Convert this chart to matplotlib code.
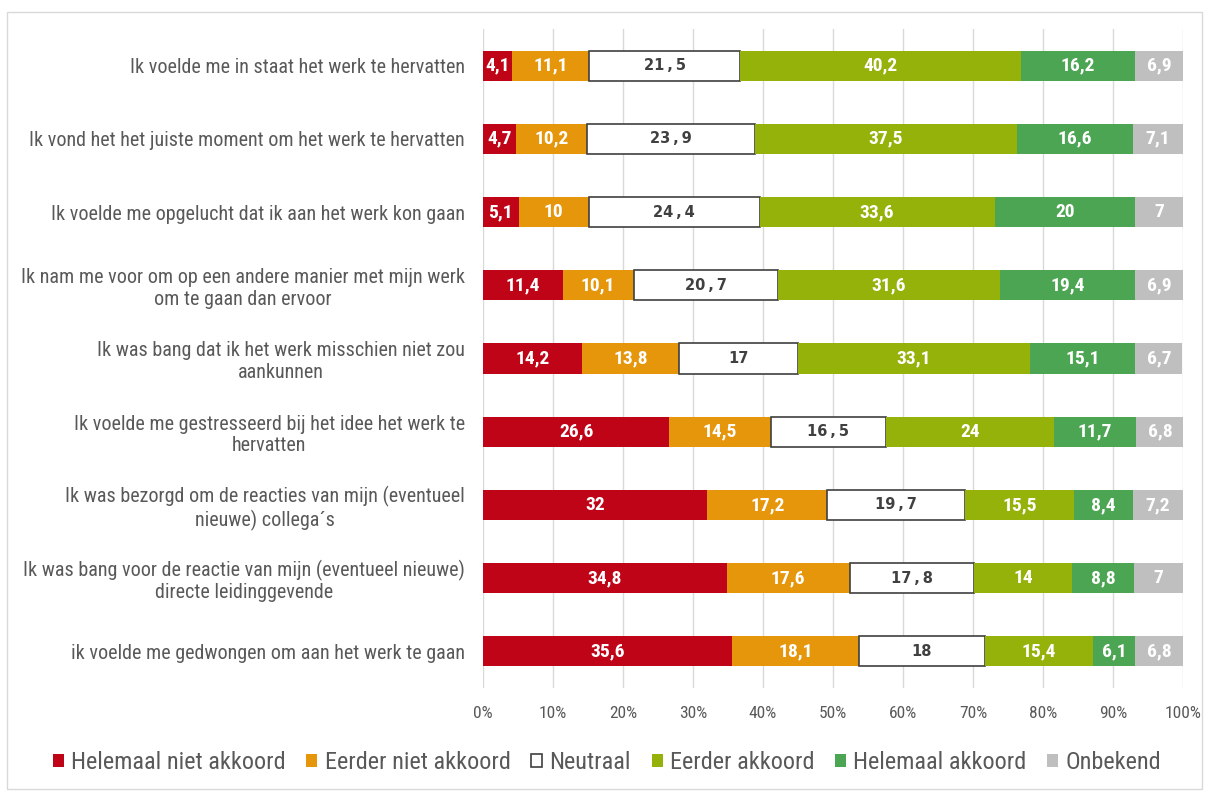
import matplotlib.pyplot as plt
from matplotlib.patches import Rectangle

plt.rcParams['font.family'] = ['Roboto Condensed', 'Roboto', 'DejaVu Sans']

# vragen (van boven naar onder)
vragen = [
    "Ik voelde me in staat het werk te hervatten",
    "Ik vond het het juiste moment om het werk te hervatten",
    "Ik voelde me opgelucht dat ik aan het werk kon gaan",
    "Ik nam me voor om op een andere manier met mijn werk\nom te gaan dan ervoor",
    "Ik was bang dat ik het werk misschien niet zou\naankunnen",
    "Ik voelde me gestresseerd bij het idee het werk te\nhervatten",
    "Ik was bezorgd om de reacties van mijn (eventueel\nnieuwe) collega´s",
    "Ik was bang voor de reactie van mijn (eventueel nieuwe)\ndirecte leidinggevende",
    "ik voelde me gedwongen om aan het werk te gaan",
]

categorieen = ["Helemaal niet akkoord", "Eerder niet akkoord", "Neutraal",
               "Eerder akkoord", "Helemaal akkoord", "Onbekend"]

helemaal_niet = [4.1, 4.7, 5.1, 11.4, 14.2, 26.6, 32, 34.8, 35.6]
eerder_niet = [11.1, 10.2, 10, 10.1, 13.8, 14.5, 17.2, 17.6, 18.1]
neutraal = [21.5, 23.9, 24.4, 20.7, 17, 16.5, 19.7, 17.8, 18]
eerder_akk = [40.2, 37.5, 33.6, 31.6, 33.1, 24, 15.5, 14, 15.4]
helemaal_akk = [16.2, 16.6, 20, 19.4, 15.1, 11.7, 8.4, 8.8, 6.1]
onbekend = [6.9, 7.1, 7, 6.9, 6.7, 6.8, 7.2, 7, 6.8]

reeksen = [helemaal_niet, eerder_niet, neutraal, eerder_akk, helemaal_akk, onbekend]
kleuren = ["#C00418", "#E5960A", "#FFFFFF", "#94B20A", "#4CA553", "#BFBFBF"]
randen = ["none", "none", "#404040", "none", "none", "none"]

fig = plt.figure(figsize=(12.14, 7.93), dpi=100)
ax = fig.add_axes([483 / 1214, 105 / 793, 700 / 1214, 659 / 793])

# rand rond de figuur
fig.patches.append(Rectangle((7 / 1214, 0.005), 1195 / 1214, 0.98, transform=fig.transFigure,
                             fill=False, edgecolor="#D9D9D9", lw=1))

y = list(range(len(vragen)))
links = [0] * len(vragen)
for reeks, kleur, rand, naam in zip(reeksen, kleuren, randen, categorieen):
    ax.barh(y, reeks, left=links, height=0.41, color=kleur, edgecolor=rand,
            linewidth=1.2 if rand != "none" else 0, label=naam, zorder=3)
    for i, v in enumerate(reeks):
        tekst = ("%g" % v).replace(".", ",")
        if naam == "Neutraal":
            ax.text(links[i] + v / 2, i, tekst.replace(",", "\u2009,\u2009"), ha="center", va="center",
                    color="#404040", fontsize=10.5, fontweight="bold", family="DejaVu Sans", zorder=4)
        else:
            ax.text(links[i] + v / 2, i, tekst, ha="center", va="center",
                    color="white", fontsize=14, fontweight="bold", zorder=4)
    links = [a + b for a, b in zip(links, reeks)]

ax.set_xlim(0, 100)
ax.set_ylim(8.5, -0.5)
ax.set_xticks(range(0, 101, 10))
ax.set_xticklabels([f"{t}%" for t in range(0, 101, 10)], fontsize=12.5, color="#595959")
ax.set_yticks(y)
ax.set_yticklabels(vragen, fontsize=14.5, color="#595959", multialignment="center",
                   linespacing=1.15)
ax.tick_params(length=0, pad=13)
ax.tick_params(axis="x", pad=13)
ax.grid(axis="x", color="#D9D9D9", lw=1, zorder=0)
for s in ax.spines.values():
    s.set_visible(False)

fig.legend(loc="center", bbox_to_anchor=(0.5, 0.038), ncol=6, frameon=False,
           fontsize=17.5, handlelength=0.45, handleheight=0.45, handletextpad=0.3,
           columnspacing=0.85, labelcolor="#595959")

fig.savefig("out.png", dpi=100)
